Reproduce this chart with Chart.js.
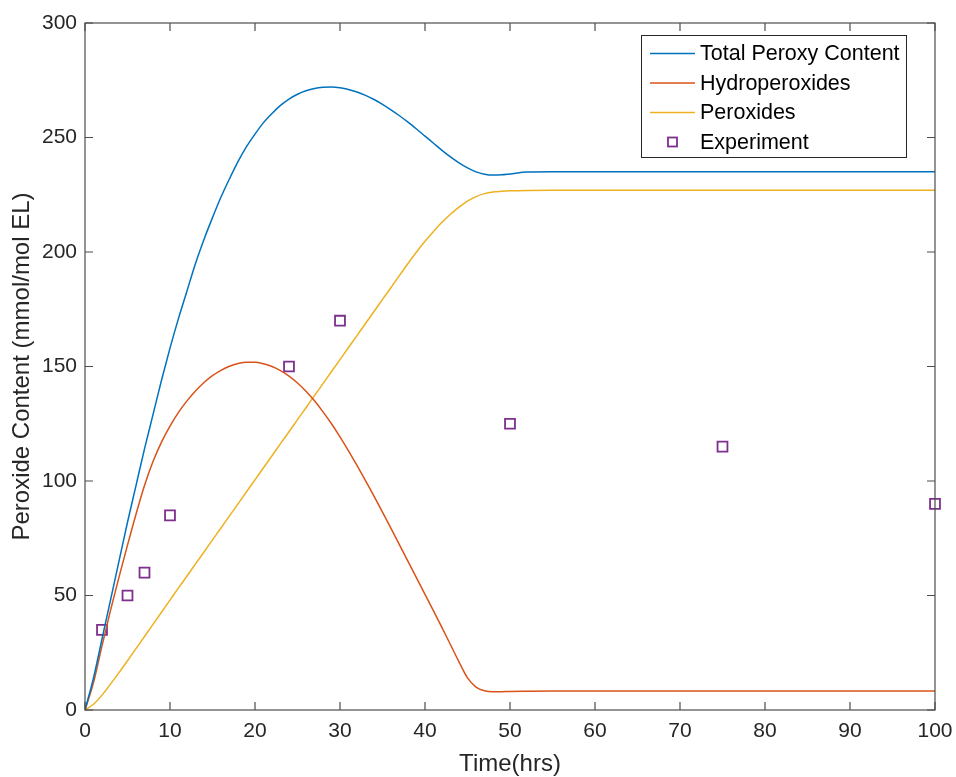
<!DOCTYPE html>
<html>
<head>
<meta charset="utf-8">
<script src="https://cdn.jsdelivr.net/npm/chart.js@4.4.1/dist/chart.umd.min.js"></script>
<style>
  html, body { margin: 0; padding: 0; background: #ffffff; }
  #wrap { width: 956px; height: 777px; }
</style>
</head>
<body>
<div id="wrap"><canvas id="c" width="956" height="777"></canvas></div>
<script>
// ---- Data ----
const timeHrs = [0, 1, 2, 3, 4, 5, 6, 7, 8, 9, 10, 11, 12, 13, 14, 15, 16, 17, 18, 19, 20, 21, 22, 23, 24, 25, 26, 27, 28, 29, 30, 31, 32, 33, 34, 35, 36, 37, 38, 39, 40, 41, 42, 43, 44, 45, 46, 47, 48, 49, 50, 52, 55, 60, 70, 80, 90, 100];
const totalPeroxy = [0, 14, 31, 48, 65, 82, 98, 114, 129, 144, 158, 171, 183, 195, 205.5, 215, 224, 232, 239.5, 246, 251.5, 256.5, 260.5, 264, 266.8, 268.9, 270.4, 271.4, 271.9, 272, 271.7, 271, 269.9, 268.4, 266.6, 264.5, 262.1, 259.5, 256.7, 253.7, 250.6, 247.5, 244.4, 241.5, 238.9, 236.7, 235, 234, 233.6, 233.7, 234.1, 234.9, 235, 235, 235, 235, 235, 235];
const hydroperoxides = [0, 12, 28, 43.5, 58, 72, 85.5, 98, 108.5, 117, 124, 130, 135, 139.3, 143, 146, 148.3, 150.1, 151.3, 151.9, 151.9, 151.2, 150, 148.2, 145.8, 142.8, 139.2, 135, 130.2, 125, 119.3, 113.2, 106.8, 100.2, 93.4, 86.4, 79.3, 72.1, 64.9, 57.7, 50.5, 43.3, 36, 28.5, 21, 14, 10, 8.4, 8, 8, 8.1, 8.2, 8.3, 8.3, 8.3, 8.3, 8.3, 8.3];
const peroxides = [0, 2.5, 6.5, 11.3, 16.3, 21.5, 26.8, 32.1, 37.4, 42.7, 48, 53.3, 58.5, 63.8, 69, 74.3, 79.5, 84.8, 90, 95.3, 100.5, 105.8, 111, 116.3, 121.5, 126.8, 132, 137.3, 142.5, 147.8, 153, 158.3, 163.5, 168.8, 174, 179.3, 184.5, 189.8, 195, 200, 204.7, 209, 213, 216.5, 219.6, 222.2, 224.2, 225.5, 226.2, 226.5, 226.7, 226.9, 227, 227, 227, 227, 227, 227];
const expTime = [2, 5, 7, 10, 24, 30, 50, 75, 100];
const expValue = [35, 50, 60, 85, 150, 170, 125, 115, 90];
const seriesNames = ['Total Peroxy Content', 'Hydroperoxides', 'Peroxides', 'Experiment'];
const xTicks = [0, 10, 20, 30, 40, 50, 60, 70, 80, 90, 100];
const yTicks = [0, 50, 100, 150, 200, 250, 300];
const xTitle = 'Time(hrs)';
const yTitle = 'Peroxide Content (mmol/mol EL)';

// ---- Styling ----
const FONT = "'Liberation Sans', Arial, Helvetica, sans-serif";
const TEXT = '#262626';
const AXIS = '#4d4d4d';
const colors = ['#0072BD', '#D95319', '#EDB120', '#7E2F8E'];

const pts = (xs, ys) => xs.map((x, i) => ({ x: x, y: ys[i] }));

const boxPlugin = {
  id: 'matlabBox',
  afterDraw(chart) {
    const ctx = chart.ctx;
    const a = chart.chartArea;
    const xs = chart.scales.x, ys = chart.scales.y;
    const L = 8;
    ctx.save();
    ctx.strokeStyle = AXIS;
    ctx.lineWidth = 1.2;
    ctx.strokeRect(a.left, a.top, a.right - a.left, a.bottom - a.top);
    ctx.beginPath();
    xTicks.forEach(v => {
      const p = xs.getPixelForValue(v);
      ctx.moveTo(p, a.bottom); ctx.lineTo(p, a.bottom - L);
      ctx.moveTo(p, a.top); ctx.lineTo(p, a.top + L);
    });
    yTicks.forEach(v => {
      const p = ys.getPixelForValue(v);
      ctx.moveTo(a.left, p); ctx.lineTo(a.left + L, p);
      ctx.moveTo(a.right, p); ctx.lineTo(a.right - L, p);
    });
    ctx.stroke();

    // Legend box (inside upper right, like MATLAB)
    const bx = 641, by = 35, bw = 265, bh = 122;
    ctx.fillStyle = '#ffffff';
    ctx.fillRect(bx, by, bw, bh);
    ctx.strokeStyle = '#262626';
    ctx.lineWidth = 1;
    ctx.strokeRect(bx + 0.5, by + 0.5, bw, bh);
    const rows = [53.5, 83, 112.5, 142];
    ctx.font = '21.5px ' + FONT;
    ctx.textBaseline = 'middle';
    ctx.textAlign = 'left';
    chart.data.datasets.forEach((ds, i) => {
      const yy = rows[i];
      if (ds.showLine === false) {
        ctx.strokeStyle = ds.borderColor;
        ctx.lineWidth = 1.8;
        ctx.strokeRect(668, yy - 4.5, 9, 9);
      } else {
        ctx.strokeStyle = ds.borderColor;
        ctx.lineWidth = 1.5;
        ctx.beginPath(); ctx.moveTo(650, yy); ctx.lineTo(695, yy); ctx.stroke();
      }
      ctx.fillStyle = '#000000';
      ctx.fillText(ds.label, 700, yy + 1);
    });
    ctx.restore();
  }
};

new Chart(document.getElementById('c'), {
  type: 'line',
  data: {
    datasets: [
      { label: seriesNames[0], data: pts(timeHrs, totalPeroxy), borderColor: colors[0], borderWidth: 1.5, pointRadius: 0, cubicInterpolationMode: 'monotone', fill: false },
      { label: seriesNames[1], data: pts(timeHrs, hydroperoxides), borderColor: colors[1], borderWidth: 1.5, pointRadius: 0, cubicInterpolationMode: 'monotone', fill: false },
      { label: seriesNames[2], data: pts(timeHrs, peroxides), borderColor: colors[2], borderWidth: 1.5, pointRadius: 0, cubicInterpolationMode: 'monotone', fill: false },
      { label: seriesNames[3], data: pts(expTime, expValue), borderColor: colors[3], backgroundColor: 'rgba(0,0,0,0)', showLine: false, pointStyle: 'rect', pointRadius: 7, pointBorderWidth: 1.8, clip: false }
    ]
  },
  options: {
    responsive: false,
    animation: false,
    devicePixelRatio: 1,
    layout: { padding: { top: 23, right: 21, left: 0, bottom: 0 } },
    plugins: { legend: { display: false }, tooltip: { enabled: false } },
    scales: {
      x: {
        type: 'linear', min: 0, max: 100,
        afterFit: s => { s.height = 67; s.paddingLeft = 0; s.paddingRight = 0; },
        afterBuildTicks: s => { s.ticks = xTicks.map(v => ({ value: v })); },
        grid: { display: false, drawTicks: false },
        border: { display: false },
        ticks: { padding: 9, color: TEXT, font: { family: FONT, size: 21 }, maxRotation: 0 },
        title: { display: true, text: xTitle, color: TEXT, font: { family: FONT, size: 24 }, padding: { top: 0, bottom: -2 } }
      },
      y: {
        type: 'linear', min: 0, max: 300,
        afterFit: s => { s.width = 85; s.paddingTop = 0; s.paddingBottom = 0; },
        afterBuildTicks: s => { s.ticks = yTicks.map(v => ({ value: v })); },
        grid: { display: false, drawTicks: false },
        border: { display: false },
        ticks: { padding: 8, color: TEXT, font: { family: FONT, size: 21 } },
        title: { display: true, text: yTitle, color: TEXT, font: { family: FONT, size: 24 }, padding: { top: 8, bottom: 0 } }
      }
    }
  },
  plugins: [boxPlugin]
});
</script>
</body>
</html>
